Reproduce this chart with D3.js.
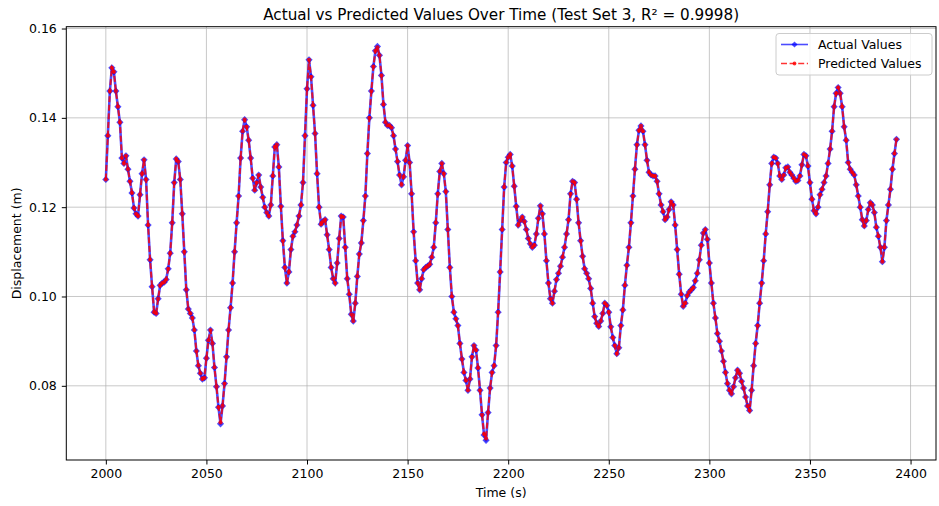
<!DOCTYPE html>
<html>
<head>
<meta charset="utf-8">
<script src="https://cdn.jsdelivr.net/npm/d3@7"></script>
<style>
  body { margin: 0; background: #fff; }
  text { font-family: 'DejaVu Sans', sans-serif; fill: #000; }
</style>
</head>
<body>
<div id="chart"></div>
<script>
// first sample time (s), one sample per second
const startTime = 2000;

// displacement (m), 2000 s .. 2393 s
const actual = [
  0.1262, 0.1360, 0.1460, 0.1512, 0.1503, 0.1460, 0.1425, 0.1390, 0.1310, 0.1298,
  0.1315, 0.1285, 0.1258, 0.1232, 0.1198, 0.1185, 0.1180, 0.1228, 0.1275, 0.1306,
  0.1262, 0.1160, 0.1082, 0.1022, 0.0965, 0.0962, 0.0995, 0.1025, 0.1030, 0.1032,
  0.1038, 0.1062, 0.1097, 0.1165, 0.1255, 0.1308, 0.1302, 0.1262, 0.1185, 0.1100,
  0.1015, 0.0972, 0.0962, 0.0952, 0.0925, 0.0878, 0.0845, 0.0828, 0.0815, 0.0818,
  0.0862, 0.0902, 0.0925, 0.0895, 0.0841, 0.0798, 0.0752, 0.0715, 0.0755, 0.0805,
  0.0865, 0.0925, 0.0975, 0.1030, 0.1100, 0.1165, 0.1225, 0.1310, 0.1370, 0.1396,
  0.1380, 0.1350, 0.1310, 0.1265, 0.1238, 0.1255, 0.1272, 0.1245, 0.1222, 0.1200,
  0.1188, 0.1180, 0.1205, 0.1270, 0.1335, 0.1340, 0.1290, 0.1202, 0.1125, 0.1065,
  0.1030, 0.1055, 0.1105, 0.1135, 0.1145, 0.1160, 0.1180, 0.1205, 0.1255, 0.1360,
  0.1465, 0.1530, 0.1492, 0.1428, 0.1365, 0.1275, 0.1200, 0.1162, 0.1168, 0.1172,
  0.1138, 0.1105, 0.1065, 0.1040, 0.1030, 0.1075, 0.1130, 0.1180, 0.1178, 0.1110,
  0.1040, 0.1005, 0.0960, 0.0945, 0.0985, 0.1045, 0.1095, 0.1120, 0.1170, 0.1225,
  0.1320, 0.1400, 0.1460, 0.1515, 0.1550, 0.1560, 0.1540, 0.1495, 0.1430, 0.1390,
  0.1383, 0.1383, 0.1378, 0.1360, 0.1330, 0.1302, 0.1272, 0.1250, 0.1268, 0.1305,
  0.1338, 0.1300, 0.1230, 0.1145, 0.1080, 0.1030, 0.1015, 0.1040, 0.1060, 0.1065,
  0.1068, 0.1072, 0.1088, 0.1110, 0.1165, 0.1230, 0.1280, 0.1298, 0.1275, 0.1235,
  0.1150, 0.1065, 0.1000, 0.0965, 0.0950, 0.0935, 0.0895, 0.0860, 0.0830, 0.0812,
  0.0790, 0.0815, 0.0865, 0.0890, 0.0880, 0.0840, 0.0790, 0.0735, 0.0690, 0.0678,
  0.0740, 0.0795, 0.0830, 0.0845, 0.0890, 0.0965, 0.1055, 0.1150, 0.1245, 0.1300,
  0.1312, 0.1318, 0.1292, 0.1247, 0.1202, 0.1160, 0.1170, 0.1178, 0.1168, 0.1150,
  0.1130, 0.1118, 0.1110, 0.1115, 0.1140, 0.1175, 0.1203, 0.1185, 0.1140, 0.1080,
  0.1030, 0.0995, 0.0985, 0.1012, 0.1038, 0.1052, 0.1068, 0.1088, 0.1110, 0.1140,
  0.1172, 0.1230, 0.1258, 0.1255, 0.1218, 0.1165, 0.1125, 0.1090, 0.1062, 0.1052,
  0.1040, 0.1018, 0.0985, 0.0955, 0.0940, 0.0933, 0.0945, 0.0962, 0.0985, 0.0980,
  0.0965, 0.0932, 0.0908, 0.0890, 0.0872, 0.0885, 0.0935, 0.0970, 0.1025, 0.1070,
  0.1110, 0.1165, 0.1225, 0.1285, 0.1340, 0.1372, 0.1382, 0.1370, 0.1340, 0.1305,
  0.1278, 0.1272, 0.1270, 0.1270, 0.1258, 0.1230, 0.1205, 0.1190, 0.1172, 0.1178,
  0.1195, 0.1212, 0.1205, 0.1160, 0.1105, 0.1050, 0.1005, 0.0978, 0.0985, 0.1002,
  0.1010, 0.1015, 0.1020, 0.1035, 0.1052, 0.1082, 0.1115, 0.1142, 0.1150, 0.1128,
  0.1075, 0.1030, 0.0985, 0.0952, 0.0917, 0.0900, 0.0878, 0.0855, 0.0830, 0.0805,
  0.0790, 0.0782, 0.0798, 0.0818, 0.0835, 0.0828, 0.0810, 0.0795, 0.0775, 0.0755,
  0.0745, 0.0790, 0.0845, 0.0895, 0.0935, 0.0985, 0.1030, 0.1080, 0.1140, 0.1190,
  0.1250, 0.1298, 0.1312, 0.1310, 0.1298, 0.1270, 0.1262, 0.1272, 0.1288, 0.1290,
  0.1278, 0.1272, 0.1265, 0.1258, 0.1260, 0.1270, 0.1295, 0.1318, 0.1315, 0.1292,
  0.1255, 0.1218, 0.1192, 0.1185, 0.1200, 0.1228, 0.1240, 0.1255, 0.1270, 0.1298,
  0.1330, 0.1370, 0.1425, 0.1455, 0.1468, 0.1455, 0.1425, 0.1380, 0.1350, 0.1300,
  0.1285, 0.1278, 0.1272, 0.1250, 0.1225, 0.1200, 0.1172, 0.1158, 0.1170, 0.1195,
  0.1210, 0.1205, 0.1188, 0.1155, 0.1135, 0.1110, 0.1078, 0.1110, 0.1170, 0.1205,
  0.1240, 0.1285, 0.1320, 0.1352
];

// model output, indistinguishable from actual at this scale (R² = 0.9998)
const predicted = [
  0.1262, 0.1360, 0.1460, 0.1512, 0.1503, 0.1460, 0.1425, 0.1390, 0.1310, 0.1298,
  0.1315, 0.1285, 0.1258, 0.1232, 0.1198, 0.1185, 0.1180, 0.1228, 0.1275, 0.1306,
  0.1262, 0.1160, 0.1082, 0.1022, 0.0965, 0.0962, 0.0995, 0.1025, 0.1030, 0.1032,
  0.1038, 0.1062, 0.1097, 0.1165, 0.1255, 0.1308, 0.1302, 0.1262, 0.1185, 0.1100,
  0.1015, 0.0972, 0.0962, 0.0952, 0.0925, 0.0878, 0.0845, 0.0828, 0.0815, 0.0818,
  0.0862, 0.0902, 0.0925, 0.0895, 0.0841, 0.0798, 0.0752, 0.0718, 0.0755, 0.0805,
  0.0865, 0.0925, 0.0975, 0.1030, 0.1100, 0.1165, 0.1225, 0.1310, 0.1370, 0.1396,
  0.1380, 0.1350, 0.1310, 0.1265, 0.1238, 0.1255, 0.1272, 0.1245, 0.1222, 0.1200,
  0.1188, 0.1180, 0.1205, 0.1270, 0.1335, 0.1340, 0.1290, 0.1202, 0.1125, 0.1065,
  0.1030, 0.1055, 0.1105, 0.1135, 0.1145, 0.1160, 0.1180, 0.1205, 0.1255, 0.1360,
  0.1465, 0.1530, 0.1492, 0.1428, 0.1365, 0.1275, 0.1200, 0.1162, 0.1168, 0.1172,
  0.1138, 0.1105, 0.1065, 0.1040, 0.1030, 0.1075, 0.1130, 0.1180, 0.1178, 0.1110,
  0.1040, 0.1005, 0.0960, 0.0945, 0.0985, 0.1045, 0.1095, 0.1120, 0.1170, 0.1225,
  0.1320, 0.1400, 0.1460, 0.1515, 0.1550, 0.1558, 0.1540, 0.1495, 0.1430, 0.1390,
  0.1383, 0.1383, 0.1378, 0.1360, 0.1330, 0.1302, 0.1272, 0.1250, 0.1268, 0.1305,
  0.1338, 0.1300, 0.1230, 0.1145, 0.1080, 0.1030, 0.1015, 0.1040, 0.1060, 0.1065,
  0.1068, 0.1072, 0.1088, 0.1110, 0.1165, 0.1230, 0.1280, 0.1298, 0.1275, 0.1235,
  0.1150, 0.1065, 0.1000, 0.0965, 0.0950, 0.0935, 0.0895, 0.0860, 0.0830, 0.0812,
  0.0790, 0.0815, 0.0865, 0.0890, 0.0880, 0.0840, 0.0790, 0.0735, 0.0692, 0.0682,
  0.0740, 0.0795, 0.0830, 0.0845, 0.0890, 0.0965, 0.1055, 0.1150, 0.1245, 0.1300,
  0.1312, 0.1318, 0.1292, 0.1247, 0.1202, 0.1160, 0.1170, 0.1178, 0.1168, 0.1150,
  0.1130, 0.1118, 0.1110, 0.1115, 0.1140, 0.1175, 0.1203, 0.1185, 0.1140, 0.1080,
  0.1030, 0.0995, 0.0985, 0.1012, 0.1038, 0.1052, 0.1068, 0.1088, 0.1110, 0.1140,
  0.1172, 0.1230, 0.1258, 0.1255, 0.1218, 0.1165, 0.1125, 0.1090, 0.1062, 0.1052,
  0.1040, 0.1018, 0.0985, 0.0955, 0.0940, 0.0933, 0.0945, 0.0962, 0.0985, 0.0980,
  0.0965, 0.0932, 0.0908, 0.0890, 0.0872, 0.0885, 0.0935, 0.0970, 0.1025, 0.1070,
  0.1110, 0.1165, 0.1225, 0.1285, 0.1340, 0.1372, 0.1382, 0.1370, 0.1340, 0.1305,
  0.1278, 0.1272, 0.1270, 0.1270, 0.1258, 0.1230, 0.1205, 0.1190, 0.1172, 0.1178,
  0.1195, 0.1212, 0.1205, 0.1160, 0.1105, 0.1050, 0.1005, 0.0978, 0.0985, 0.1002,
  0.1010, 0.1015, 0.1020, 0.1035, 0.1052, 0.1082, 0.1115, 0.1142, 0.1150, 0.1128,
  0.1075, 0.1030, 0.0985, 0.0952, 0.0917, 0.0900, 0.0878, 0.0855, 0.0830, 0.0805,
  0.0790, 0.0782, 0.0798, 0.0818, 0.0835, 0.0828, 0.0810, 0.0795, 0.0775, 0.0755,
  0.0745, 0.0790, 0.0845, 0.0895, 0.0935, 0.0985, 0.1030, 0.1080, 0.1140, 0.1190,
  0.1250, 0.1298, 0.1312, 0.1310, 0.1298, 0.1270, 0.1262, 0.1272, 0.1288, 0.1290,
  0.1278, 0.1272, 0.1265, 0.1258, 0.1260, 0.1270, 0.1295, 0.1318, 0.1315, 0.1292,
  0.1255, 0.1218, 0.1192, 0.1185, 0.1200, 0.1228, 0.1240, 0.1255, 0.1270, 0.1298,
  0.1330, 0.1370, 0.1425, 0.1455, 0.1468, 0.1455, 0.1425, 0.1380, 0.1350, 0.1300,
  0.1285, 0.1278, 0.1272, 0.1250, 0.1225, 0.1200, 0.1172, 0.1158, 0.1170, 0.1195,
  0.1210, 0.1205, 0.1188, 0.1155, 0.1135, 0.1110, 0.1078, 0.1110, 0.1170, 0.1205,
  0.1240, 0.1285, 0.1320, 0.1352
];

const xTicks = [2000, 2050, 2100, 2150, 2200, 2250, 2300, 2350, 2400];
const yTicks = [0.08, 0.10, 0.12, 0.14, 0.16];
const seriesNames = ['Actual Values', 'Predicted Values'];

const W = 939;
const H = 506;
const margin = { left: 66.3, right: 3, top: 26.7, bottom: 46 };
const width = W - margin.left - margin.right;
const height = H - margin.top - margin.bottom;

const actualData = actual.map((v, i) => ({ t: startTime + i, v: v }));
const predData = predicted.map((v, i) => ({ t: startTime + i, v: v }));

const svg = d3
  .select('#chart')
  .append('svg')
  .attr('width', W)
  .attr('height', H);
const g = svg.append('g').attr('transform', 'translate(' + margin.left + ',' + margin.top + ')');

// matplotlib style 5% padding
const tExt = d3.extent(actualData, d => d.t);
const vExt = d3.extent(actualData.concat(predData), d => d.v);
const tPad = (tExt[1] - tExt[0]) * 0.05;
const vPad = (vExt[1] - vExt[0]) * 0.05;

const x = d3.scaleLinear().domain([tExt[0] - tPad, tExt[1] + tPad]).range([0, width]);
const y = d3.scaleLinear().domain([vExt[0] - vPad, vExt[1] + vPad]).range([height, 0]);

// grid
g.append('g')
  .selectAll('line')
  .data(xTicks)
  .enter()
  .append('line')
  .attr('x1', d => x(d))
  .attr('x2', d => x(d))
  .attr('y1', 0)
  .attr('y2', height)
  .attr('stroke', '#b0b0b0')
  .attr('stroke-opacity', 0.7)
  .attr('stroke-width', 1);
g.append('g')
  .selectAll('line')
  .data(yTicks)
  .enter()
  .append('line')
  .attr('x1', 0)
  .attr('x2', width)
  .attr('y1', d => y(d))
  .attr('y2', d => y(d))
  .attr('stroke', '#b0b0b0')
  .attr('stroke-opacity', 0.7)
  .attr('stroke-width', 1);

// axes
const xAxis = g
  .append('g')
  .attr('transform', 'translate(0,' + height + ')')
  .call(d3.axisBottom(x).tickValues(xTicks).tickSize(4.5).tickPadding(5).tickFormat(d3.format('d')));
const yAxis = g
  .append('g')
  .call(d3.axisLeft(y).tickValues(yTicks).tickSize(4.5).tickPadding(5).tickFormat(d3.format('.2f')));
[xAxis, yAxis].forEach(a => {
  a.select('.domain').remove();
  a.selectAll('text').attr('font-size', '12.5px').attr('font-family', 'DejaVu Sans').attr('fill', '#000');
  a.selectAll('line').attr('stroke', '#000').attr('stroke-width', 1);
});

g.append('rect')
  .attr('width', width)
  .attr('height', height)
  .attr('fill', 'none')
  .attr('stroke', '#000')
  .attr('stroke-width', 1);

const clip = svg.append('defs').append('clipPath').attr('id', 'plot-clip');
clip.append('rect').attr('width', width).attr('height', height);

const plot = g.append('g').attr('clip-path', 'url(#plot-clip)');

const line = d3
  .line()
  .x(d => x(d.t))
  .y(d => y(d.v));

const diamond = d3.symbol().type(d3.symbolSquare).size(26);

// actual series: blue line + diamond markers
plot.append('path')
  .attr('d', line(actualData))
  .attr('fill', 'none')
  .attr('stroke', 'blue')
  .attr('stroke-opacity', 0.7)
  .attr('stroke-width', 2.6)
  .attr('stroke-linejoin', 'round');
plot.append('g')
  .selectAll('path')
  .data(actualData)
  .enter()
  .append('path')
  .attr('d', diamond)
  .attr('transform', d => 'translate(' + x(d.t) + ',' + y(d.v) + ') rotate(45)')
  .attr('fill', 'blue')
  .attr('fill-opacity', 0.7);

// predicted series: red dashed line + dot markers
plot.append('path')
  .attr('d', line(predData))
  .attr('fill', 'none')
  .attr('stroke', 'red')
  .attr('stroke-opacity', 0.8)
  .attr('stroke-width', 2)
  .attr('stroke-dasharray', '6,2.6');
plot.append('g')
  .selectAll('circle')
  .data(predData)
  .enter()
  .append('circle')
  .attr('cx', d => x(d.t))
  .attr('cy', d => y(d.v))
  .attr('r', 2.1)
  .attr('fill', 'red')
  .attr('fill-opacity', 0.8);

// title and labels
svg.append('text')
  .attr('x', margin.left + width / 2)
  .attr('y', 19.5)
  .attr('text-anchor', 'middle')
  .attr('font-size', '15.2px')
  .text('Actual vs Predicted Values Over Time (Test Set 3, R² = 0.9998)');
svg.append('text')
  .attr('x', margin.left + width / 2)
  .attr('y', 497)
  .attr('text-anchor', 'middle')
  .attr('font-size', '12.5px')
  .text('Time (s)');
svg.append('text')
  .attr('transform', 'translate(21,' + (margin.top + height / 2) + ') rotate(-90)')
  .attr('text-anchor', 'middle')
  .attr('font-size', '12.5px')
  .text('Displacement (m)');

// legend
const legend = svg.append('g').attr('transform', 'translate(776,33.5)');
legend.append('rect')
  .attr('width', 156)
  .attr('height', 41.5)
  .attr('rx', 3)
  .attr('fill', '#fff')
  .attr('fill-opacity', 0.8)
  .attr('stroke', '#cccccc')
  .attr('stroke-width', 1);
const rows = legend
  .selectAll('g.row')
  .data(seriesNames)
  .enter()
  .append('g')
  .attr('class', 'row')
  .attr('transform', (d, i) => 'translate(0,' + (11 + i * 19) + ')');
rows.append('line')
  .attr('x1', 5)
  .attr('x2', 32)
  .attr('stroke', (d, i) => (i === 0 ? 'blue' : 'red'))
  .attr('stroke-opacity', (d, i) => (i === 0 ? 0.7 : 0.8))
  .attr('stroke-width', 1.6)
  .attr('stroke-dasharray', (d, i) => (i === 0 ? null : '6,2.6'));
rows.filter((d, i) => i === 0)
  .append('path')
  .attr('d', d3.symbol().type(d3.symbolSquare).size(19))
  .attr('transform', 'translate(18.5,0) rotate(45)')
  .attr('fill', 'blue')
  .attr('fill-opacity', 0.7);
rows.filter((d, i) => i === 1)
  .append('circle')
  .attr('cx', 18.5)
  .attr('r', 1.9)
  .attr('fill', 'red')
  .attr('fill-opacity', 0.8);
rows.append('text')
  .attr('x', 42)
  .attr('y', 4.5)
  .attr('font-size', '12.5px')
  .text(d => d);
</script>
</body>
</html>
